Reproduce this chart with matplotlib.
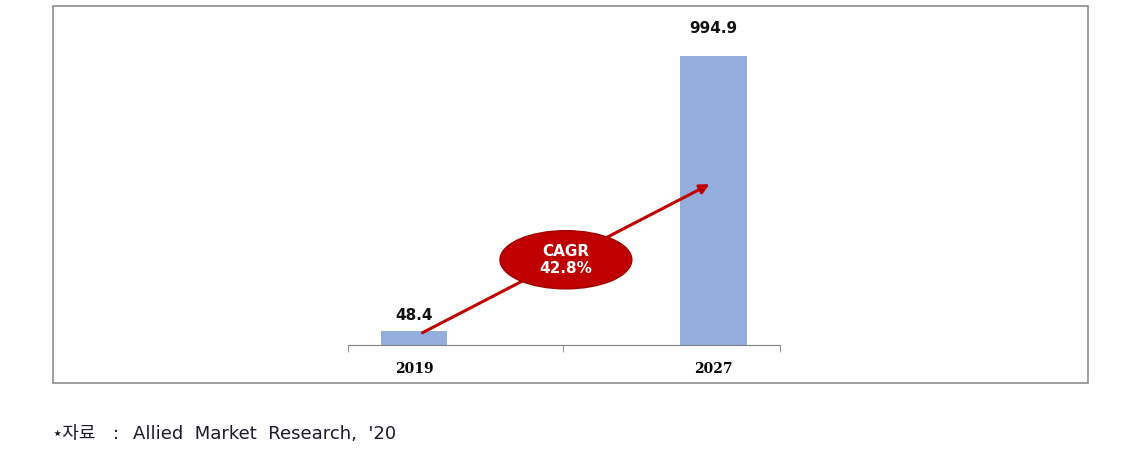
import matplotlib.pyplot as plt
from matplotlib.patches import Ellipse, Rectangle

years = ["2019", "2027"]
values = [48.4, 994.9]
cagr_label = "CAGR\n42.8%"
source_head = "⋆자료"
source_body = "Allied  Market  Research,  '20"

W, H = 1123, 459
fig = plt.figure(figsize=(W / 100, H / 100), dpi=100)

# outer frame
fig.patches.append(Rectangle((53 / W, 1 - 383 / H), (1088 - 53) / W, (383 - 6) / H,
                             transform=fig.transFigure, fill=False,
                             edgecolor="#8c8c8c", linewidth=1.2))

ax = fig.add_axes([348 / W, 1 - 345 / H, (780 - 348) / W, (345 - 25) / H])
x = [0, 1]
ax.bar(x, values, width=0.224, color="#93aedd", zorder=2)

ax.set_xlim(-0.2207, 1.224)
ax.set_ylim(0, 1100)
for s in ["top", "right", "left"]:
    ax.spines[s].set_visible(False)
ax.spines["bottom"].set_color("#808080")
ax.set_yticks([])
ax.set_xticks(x)
ax.set_xticklabels(years, fontfamily="DejaVu Serif", fontweight="bold", fontsize=10)
ax.tick_params(axis="x", length=0, pad=12)
ax.set_xticks([-0.2207, 0.498, 1.224], minor=True)
ax.tick_params(axis="x", which="minor", length=5, color="#808080", direction="out")

# label gaps above bars (pixels)
gaps = [8, 20]
for xi, v, g in zip(x, values, gaps):
    ax.annotate(f"{v:.1f}", (xi, v), xytext=(0, g), textcoords="offset pixels",
                ha="center", va="bottom", fontsize=11, fontweight="bold",
                color="#111111")

# CAGR arrow and badge
ax.annotate("", xy=(0.997, values[1] * 0.56), xytext=(0.02, values[0] * 0.78),
            arrowprops=dict(arrowstyle="-|>", color="#c00000", lw=2.2,
                            mutation_scale=14), zorder=3)
ax.add_patch(Ellipse((0.508, 293), 0.441, 200, facecolor="#c00000",
                     edgecolor="#a00000", zorder=4))
ax.text(0.508, 293, cagr_label, ha="center", va="center", color="white",
        fontsize=11, fontweight="bold", linespacing=1.15, zorder=5)

# source note
fam = ["DejaVu Sans", "Noto Sans CJK KR"]
fy = 1 - 434 / H
fig.text(52 / W, fy, source_head, ha="left", va="center", fontsize=13,
         color="#1a1a2a", family=fam)
fig.text(116 / W, fy, ":", ha="center", va="center", fontsize=13,
         color="#1a1a2a", family=fam)
fig.text(133 / W, fy, source_body, ha="left", va="center", fontsize=13,
         color="#1a1a2a", family=fam)

fig.savefig("out.png", dpi=100)
